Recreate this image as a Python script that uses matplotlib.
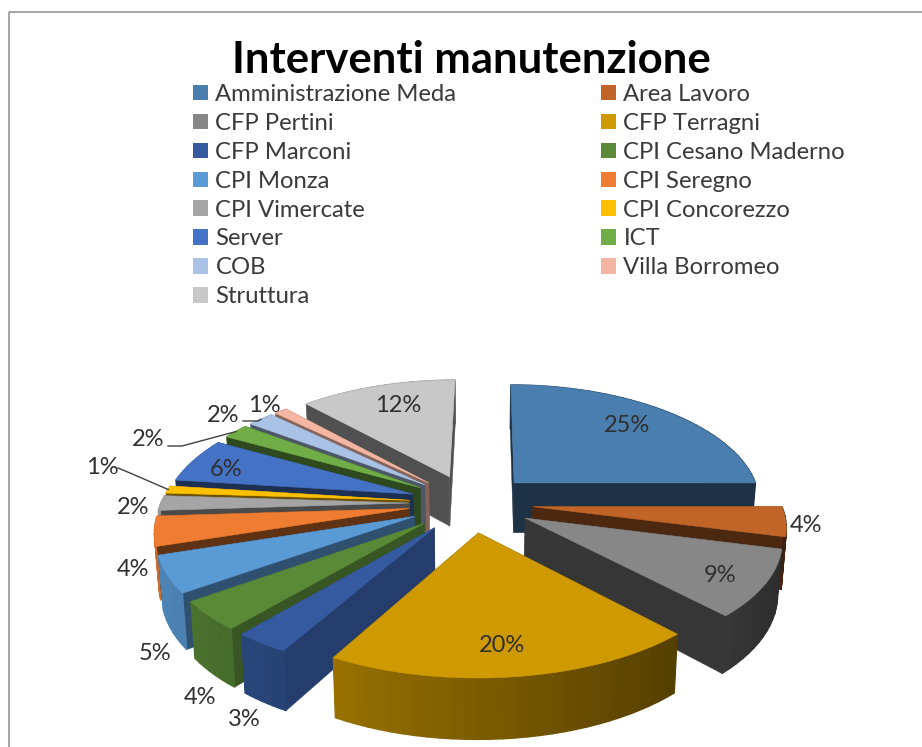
import numpy as np
import matplotlib
matplotlib.use("Agg")
import matplotlib.pyplot as plt
from matplotlib.patches import Polygon, Patch, Rectangle
from matplotlib.colors import to_rgb

plt.rcParams['font.family'] = ['Lato', 'DejaVu Sans']

categories = ["Amministrazione Meda", "Area Lavoro", "CFP Pertini", "CFP Terragni", "CFP Marconi",
              "CPI Cesano Maderno", "CPI Monza", "CPI Seregno", "CPI Vimercate", "CPI Concorezzo",
              "Server", "ICT", "COB", "Villa Borromeo", "Struttura"]
values = [25, 4, 9, 20, 3, 4, 5, 4, 2, 1, 6, 2, 2, 1, 12]

colors = ["#4a7eae", "#c06428", "#878787", "#cf9a00", "#355a9f", "#5a8a38", "#5a9ad5", "#ee7d31",
          "#a5a5a5", "#ffc000", "#4472c4", "#70ad47", "#a9c2e5", "#f4b6a2", "#c8c8c8"]
cut_shades = [.40, .40, .40, .40, .68, .62, .52, .40, .45, .42, .42, .42, .45, .55, .40]
draw_order = [14, 0, 13, 12, 11, 10, 9, 8, 7, 6, 5, 4, 1, 2, 3]
label_xy = [(627, 426), (806, 525), (720, 575), (502, 645), (244, 719), (200, 697), (155, 653), (133, 570),
            (133, 508), (102, 468), (226, 470), (148, 439), (223, 415), (264, 405), (398, 406)]
leaders = {9: [(118, 468), (130, 473)], 11: [(168, 446), (182, 446)], 12: [(243, 421), (258, 421)]}

CX, CY, RX, RY, K, KX, SHEAR, DEPTH, EXPLODE = 471, 503, 248, 116.4, .136, .02, 2.5, 51, .25

fig = plt.figure(figsize=(9.22, 7.47), dpi=100, facecolor="white")
ax = fig.add_axes([0, 0, 1, 1])
ax.set_xlim(0, 922)
ax.set_ylim(747, 0)
ax.axis("off")
ax.add_patch(Rectangle((8.5, 11.5), 1000, 1000, fill=False, ec="#8c8c8c", lw=1.1))


def project(X, Y, low=False):
    w = 1 / (1 + K * Y)
    x = CX + RX * X * w * (1 - KX * Y) + SHEAR * Y
    y = CY - RY * Y * w
    if low:
        x = CX + (x - CX) * .985
        y = y + DEPTH * w
    return np.column_stack([x, y])


def shade(color, f):
    return tuple(c * f for c in to_rgb(color))


def quad(a_pts, b_pts, color, z, lw):
    ax.add_patch(Polygon(np.vstack([a_pts, b_pts[::-1]]), closed=True, fc=color, ec=color, lw=lw, zorder=z))


fractions = np.cumsum([0] + values) / sum(values)
z = 2
for i in draw_order:
    a0, a1 = 2 * np.pi * fractions[i], 2 * np.pi * fractions[i + 1]
    mid = (a0 + a1) / 2
    ox, oy = EXPLODE * np.sin(mid), EXPLODE * np.cos(mid)
    th = np.linspace(a0, a1, max(7, int(values[i] * 1.5)) + 1)
    X = ox + np.sin(th)
    Y = oy + np.cos(th)

    faces = []
    # flat cut faces
    for a in (a0, a1):
        px, py = np.array([ox, ox + np.sin(a)]), np.array([oy, oy + np.cos(a)])
        faces.append((py.mean(), px, py, shade(colors[i], cut_shades[i]), .3))
    # curved outer wall, lit from the left
    for j in range(len(th) - 1):
        f = np.clip(.6 - .28 * np.sin((th[j] + th[j + 1]) / 2), .3, .9)
        faces.append((Y[j:j + 2].mean(), X[j:j + 2], Y[j:j + 2], shade(colors[i], f), 1.0))
    for _, px, py, c, lw in sorted(faces, key=lambda t: -t[0]):
        z += .001
        quad(project(px, py), project(px, py, low=True), c, z, lw)

    z += .001
    fine = np.linspace(a0, a1, 150)
    top = project(np.r_[ox, ox + np.sin(fine)], np.r_[oy, oy + np.cos(fine)])
    ax.add_patch(Polygon(top, closed=True, fc=colors[i], ec=colors[i], lw=.4, zorder=z))
    z += 1

for i, (lx, ly) in enumerate(label_xy):
    ax.text(lx, ly, f"{values[i]}%", ha="center", va="center", fontsize=17, color="#303030", zorder=100)

for i, pts in leaders.items():
    mid = 2 * np.pi * (fractions[i] + fractions[i + 1]) / 2
    end = project(np.array([(1 + EXPLODE) * np.sin(mid)]), np.array([(1 + EXPLODE) * np.cos(mid)]))
    path = np.vstack([pts, end])
    ax.plot(path[:, 0], path[:, 1], color="#404040", lw=1, zorder=99)

ax.text(471.5, 60, "Interventi manutenzione", ha="center", va="center", fontsize=31.4, fontweight="bold",
        color="black", zorder=100)

handles = [Patch(fc=colors[i], ec="none", label=categories[i]) for i in range(len(values))]
col1, col2 = handles[0::2], handles[1::2]
ax.legend(handles=col1 + col2, ncols=2, loc="upper left", bbox_to_anchor=(193 / 922, 1 - 84 / 747),
          frameon=False, fontsize=17.2, labelcolor="#3a3a3a", handlelength=.62, handleheight=.62,
          handletextpad=.32, labelspacing=.33, columnspacing=6.05, borderpad=0, borderaxespad=0)

fig.savefig("out.png", dpi=100)
